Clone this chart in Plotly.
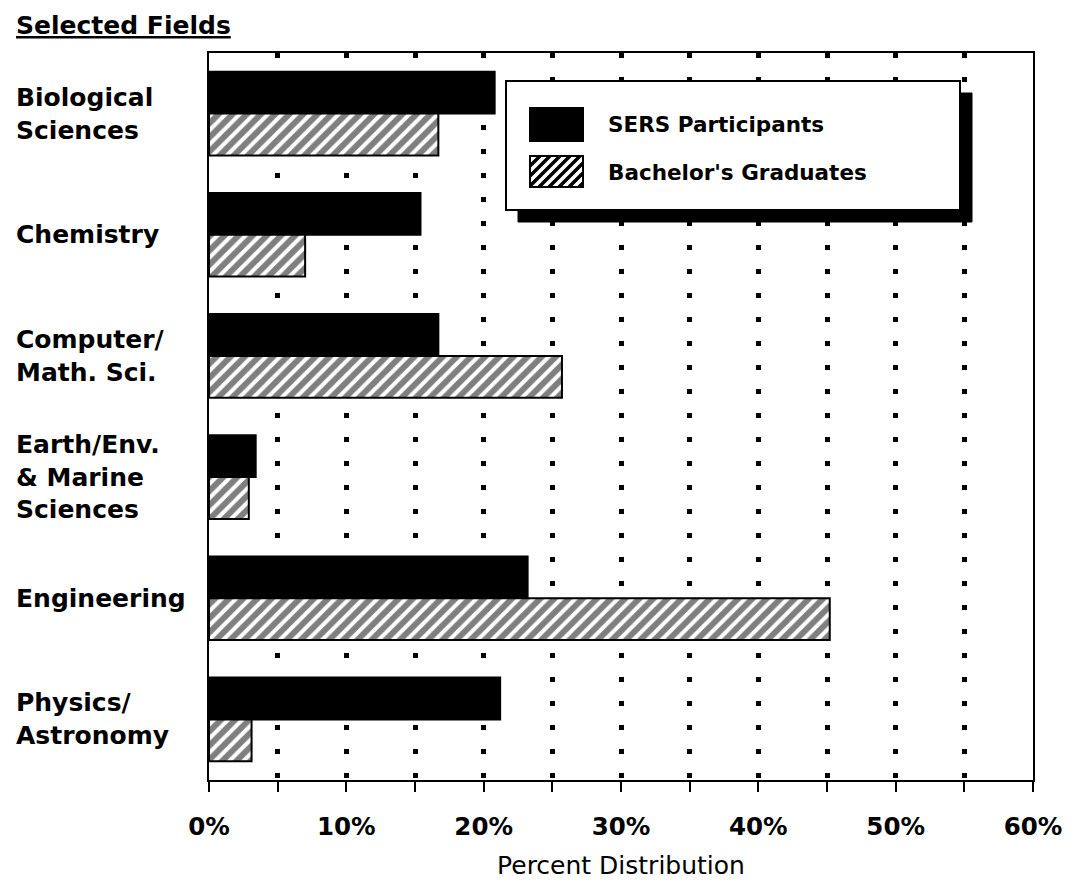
import plotly.graph_objects as go

# ---- data ----
categories = ["Biological<br>Sciences", "Chemistry", "Computer/<br>Math. Sci.",
              "Earth/Env.<br>& Marine<br>Sciences", "Engineering", "Physics/<br>Astronomy"]
sers_participants = [20.8, 15.4, 16.7, 3.4, 23.2, 21.2]
bachelors_graduates = [16.7, 7.0, 25.7, 2.9, 45.2, 3.1]
series_names = ["SERS Participants", "Bachelor's Graduates"]
x_tickvals = [0, 5, 10, 15, 20, 25, 30, 35, 40, 45, 50, 55, 60]
x_ticktext = ["0%", "", "10%", "", "20%", "", "30%", "", "40%", "", "50%", "", "60%"]
x_title = "Percent Distribution"
chart_title = "Selected Fields"

# ---- layout geometry (page pixels) ----
PAGE_W, PAGE_H = 1077, 882
OFF = 8  # default body margin of the html page
W, H = PAGE_W - OFF, PAGE_H - OFF
PL, PR, PT, PB = 209, 1033, 53, 780
FONT = "DejaVu Sans"


def px(x):
    return (x - PL) / (PR - PL)


def py(y):
    return (PB - y) / (PB - PT)


fig = go.Figure()
fig.add_trace(go.Bar(
    x=sers_participants, y=categories, orientation="h", name=series_names[0],
    marker=dict(color="black", line=dict(color="black", width=2)),
))
fig.add_trace(go.Bar(
    x=bachelors_graduates, y=categories, orientation="h", name=series_names[1],
    marker=dict(color="white", line=dict(color="black", width=2),
                pattern=dict(shape="/", fgcolor="black", bgcolor="white",
                             size=10, solidity=0.6, fillmode="overlay")),
))

shapes = []
# legend shadow + box
bx0, by0, bx1, by1 = 506, 81, 960, 210
shapes.append(dict(type="rect", xref="paper", yref="paper",
                   x0=px(bx0 + 12), x1=px(bx1 + 12), y0=py(by0 + 12), y1=py(by1 + 12),
                   fillcolor="black", line=dict(color="black", width=1)))
shapes.append(dict(type="rect", xref="paper", yref="paper",
                   x0=px(bx0), x1=px(bx1), y0=py(by0), y1=py(by1),
                   fillcolor="white", line=dict(color="black", width=2)))
# swatches
sx0, sx1 = 530, 583
shapes.append(dict(type="rect", xref="paper", yref="paper",
                   x0=px(sx0), x1=px(sx1), y0=py(108), y1=py(141),
                   fillcolor="black", line=dict(color="black", width=2)))
hy0, hy1 = 156, 187
shapes.append(dict(type="rect", xref="paper", yref="paper",
                   x0=px(sx0), x1=px(sx1), y0=py(hy0), y1=py(hy1),
                   fillcolor="white", line=dict(color="black", width=2)))
h = hy1 - hy0
segs = []
c = sx0 - h
while c < sx1:
    s0 = max(0, sx0 - c)
    s1 = min(h, sx1 - c)
    if s1 > s0:
        segs.append(f"M{px(c + s0):.5f},{py(hy1 - s0):.5f}L{px(c + s1):.5f},{py(hy1 - s1):.5f}")
    c += 10
shapes.append(dict(type="path", xref="paper", yref="paper", path="".join(segs),
                   line=dict(color="black", width=3.5)))

annotations = []
for name, yc in zip(series_names, [124, 172]):
    annotations.append(dict(text=name, xref="paper", yref="paper", x=px(606), y=py(yc),
                            xanchor="left", yanchor="middle", showarrow=False,
                            font=dict(family=FONT, size=21.5, color="black", weight="bold")))
for cat in categories:
    annotations.append(dict(text=cat, xref="paper", yref="y", x=px(14), y=cat,
                            xanchor="left", yanchor="middle", align="left", showarrow=False,
                            font=dict(family=FONT, size=25, color="black", weight="bold")))
annotations.append(dict(text=f"<u>{chart_title}</u>", xref="paper", yref="paper",
                        x=px(14), y=py(26), xanchor="left", yanchor="middle", showarrow=False,
                        font=dict(family=FONT, size=25, color="black", weight="bold")))

fig.update_layout(
    width=W, height=H,
    margin=dict(l=PL - OFF, r=PAGE_W - PR, t=PT - OFF, b=PAGE_H - PB, pad=0),
    paper_bgcolor="white", plot_bgcolor="white",
    barmode="group", bargap=0.31, bargroupgap=0,
    showlegend=False,
    shapes=shapes, annotations=annotations,
    xaxis=dict(range=[0, 60], tickvals=x_tickvals, ticktext=x_ticktext, automargin=False,
               ticks="outside", ticklen=10, tickwidth=2, tickcolor="black",
               showline=True, linewidth=2, linecolor="black", mirror=True,
               showgrid=True, gridcolor="black", gridwidth=4.5, griddash="5px,19px",
               zeroline=False, ticklabelstandoff=14,
               tickfont=dict(family=FONT, size=24.5, color="black", weight="bold"),
               title=dict(text=x_title, standoff=16,
                          font=dict(family=FONT, size=25, color="black"))),
    yaxis=dict(categoryorder="array", categoryarray=categories, autorange="reversed",
               automargin=False,
               showticklabels=False, ticks="", showgrid=False, zeroline=False,
               showline=True, linewidth=2, linecolor="black", mirror=True),
)

fig.write_html("out.html")
